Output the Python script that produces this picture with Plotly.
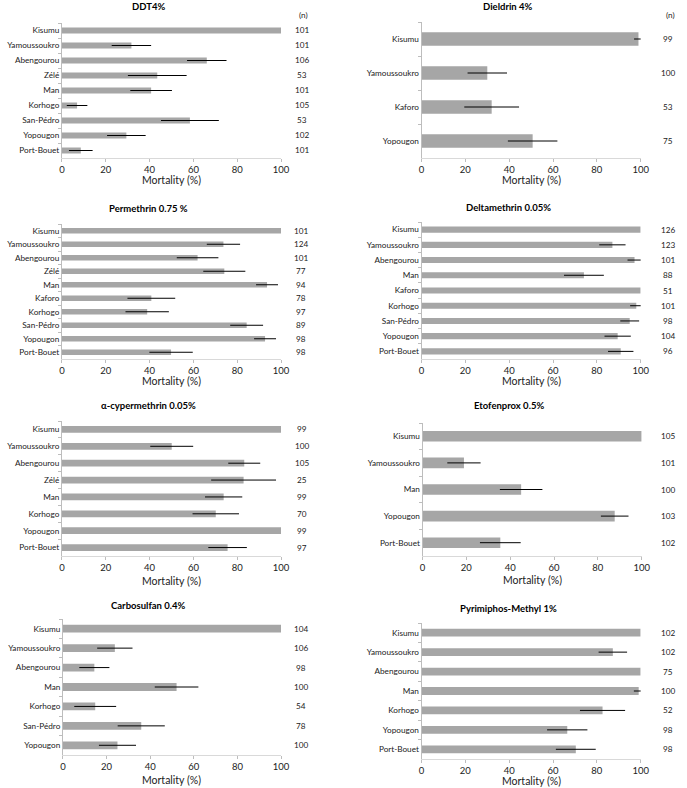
import plotly.graph_objects as go

# ---------------- data ----------------
ddt_sites = ["Kisumu", "Yamoussoukro", "Abengourou", "Zélé", "Man", "Korhogo", "San-Pédro", "Yopougon", "Port-Bouet"]
ddt_mort = [100, 31.7, 66.1, 43.5, 40.7, 6.9, 58.4, 29.4, 8.6]
ddt_err = [0, 9, 9, 13.4, 9.5, 4.7, 13.2, 8.8, 5.4]
ddt_n = [101, 101, 106, 53, 101, 105, 53, 102, 101]

dieldrin_sites = ["Kisumu", "Yamoussoukro", "Kaforo", "Yopougon"]
dieldrin_mort = [99, 30, 32, 50.7]
dieldrin_err = [2, 9, 12.5, 11.3]
dieldrin_n = [99, 100, 53, 75]

perm_sites = ["Kisumu", "Yamoussoukro", "Abengourou", "Zélé", "Man", "Kaforo", "Korhogo", "San-Pédro", "Yopougon", "Port-Bouet"]
perm_mort = [100, 73.7, 61.9, 74.1, 93.6, 40.8, 38.9, 84.3, 92.7, 49.8]
perm_err = [0, 7.6, 9.5, 9.6, 5, 10.9, 9.9, 7.5, 5, 9.9]
perm_n = [101, 124, 101, 77, 94, 78, 97, 89, 98, 98]

delta_sites = ["Kisumu", "Yamoussoukro", "Abengourou", "Man", "Kaforo", "Korhogo", "San-Pédro", "Yopougon", "Port-Bouet"]
delta_mort = [100, 87.1, 97.2, 74.1, 100, 98, 95, 89.5, 90.9]
delta_err = [0, 6, 3.2, 9.1, 0, 2.8, 4.3, 6, 5.8]
delta_n = [126, 123, 101, 88, 51, 101, 98, 104, 96]

alpha_sites = ["Kisumu", "Yamoussoukro", "Abengourou", "Zélé", "Man", "Korhogo", "Yopougon", "Port-Bouet"]
alpha_mort = [100, 50.1, 83.2, 82.9, 73.8, 70.2, 100, 75.6]
alpha_err = [0, 9.8, 7.3, 14.8, 8.5, 10.6, 0, 8.8]
alpha_n = [99, 100, 105, 25, 99, 70, 99, 97]

etof_sites = ["Kisumu", "Yamoussoukro", "Man", "Yopougon", "Port-Bouet"]
etof_mort = [100, 18.9, 45, 87.7, 35.5]
etof_err = [0, 7.6, 9.7, 6.3, 9.3]
etof_n = [105, 101, 100, 103, 102]

carbo_sites = ["Kisumu", "Yamoussoukro", "Abengourou", "Man", "Korhogo", "San-Pédro", "Yopougon"]
carbo_mort = [100, 23.8, 14.4, 52.1, 14.8, 35.9, 25]
carbo_err = [0, 8.1, 6.9, 10, 9.6, 10.8, 8.5]
carbo_n = [104, 106, 98, 100, 54, 78, 100]

pm_sites = ["Kisumu", "Yamoussoukro", "Abengourou", "Man", "Korhogo", "Yopougon", "Port-Bouet"]
pm_mort = [100, 87.3, 100, 99.1, 82.6, 66.5, 70.4]
pm_err = [0, 6.5, 0, 2.2, 10.3, 9.2, 9.1]
pm_n = [102, 102, 75, 100, 52, 98, 98]

titles = ["DDT4%", "Dieldrin 4%", "Permethrin 0.75 %", "Deltamethrin 0.05%",
          "α-cypermethrin 0.05%", "Etofenprox 0.5%", "Carbosulfan 0.4%", "Pyrimiphos-Methyl 1%"]
x_ticks = [0, 20, 40, 60, 80, 100]
x_title = "Mortality (%)"
n_header = "(n)"

# ---------------- layout geometry (pixels) ----------------
W, H = 687, 788
FONT = "Lato"
BAR = "#a6a6a6"
TXT = "#222222"
AXIS = "#bdbdbd"

panels = [
    dict(sites=ddt_sites, mort=ddt_mort, err=ddt_err, n=ddt_n, x0=60, x1=283, top=23, bot=158, tx=148, ty=7, nx=304, hdr=True, aty=180),
    dict(sites=dieldrin_sites, mort=dieldrin_mort, err=dieldrin_err, n=dieldrin_n, x0=426, x1=649, top=22, bot=158, tx=514, ty=7, nx=677, hdr=True, aty=180),
    dict(sites=perm_sites, mort=perm_mort, err=perm_err, n=perm_n, x0=60, x1=283, top=224, bot=359, tx=148, ty=208, nx=303, hdr=False, aty=381),
    dict(sites=delta_sites, mort=delta_mort, err=delta_err, n=delta_n, x0=426, x1=649, top=222, bot=359, tx=514, ty=207, nx=677, hdr=False, aty=381),
    dict(sites=alpha_sites, mort=alpha_mort, err=alpha_err, n=alpha_n, x0=60, x1=283, top=421, bot=556, tx=148, ty=405, nx=304, hdr=False, aty=581),
    dict(sites=etof_sites, mort=etof_mort, err=etof_err, n=etof_n, x0=427, x1=650, top=423, bot=556, tx=515, ty=405, nx=677, hdr=False, aty=580),
    dict(sites=carbo_sites, mort=carbo_mort, err=carbo_err, n=carbo_n, x0=61, x1=283, top=619, bot=755, tx=148, ty=605, nx=303, hdr=False, aty=780),
    dict(sites=pm_sites, mort=pm_mort, err=pm_err, n=pm_n, x0=426, x1=649, top=623, bot=759, tx=514, ty=608, nx=677, hdr=False, aty=781),
]

fig = go.Figure()
annotations = []
layout_axes = {}

for i, p in enumerate(panels):
    k = "" if i == 0 else str(i + 1)
    xa, ya = "x" + k, "y" + k
    fig.add_trace(go.Bar(
        x=p["mort"], y=p["sites"], orientation="h", xaxis=xa, yaxis=ya,
        marker=dict(color=BAR, line=dict(width=0)),
        error_x=dict(type="data", array=p["err"], visible=True, color="#000000", thickness=1, width=0),
        showlegend=False, hoverinfo="x+y",
    ))
    nc = len(p["sites"])
    layout_axes["xaxis" + k] = dict(
        domain=[p["x0"] / W, p["x1"] / W], anchor=ya, range=[0, 100],
        tickvals=x_ticks, showgrid=False, zeroline=False,
        showline=True, linecolor="#d9d9d9", linewidth=1,
        ticks="outside", ticklen=3, tickcolor=AXIS,
        tickfont=dict(family=FONT, size=9.5, color=TXT), fixedrange=True,
    )
    layout_axes["yaxis" + k] = dict(
        domain=[1 - p["bot"] / H, 1 - p["top"] / H], anchor=xa,
        type="category", categoryorder="array", categoryarray=p["sites"],
        range=[nc - 0.5, -0.5], showgrid=False, zeroline=False,
        showline=True, linecolor=AXIS, linewidth=1,
        ticks="outside", tickson="boundaries", ticklen=3, tickcolor=AXIS,
        tickfont=dict(family=FONT, size=8.2, color=TXT), fixedrange=True,
    )
    # panel title
    annotations.append(dict(text="<b>" + titles[i] + "</b>", x=p["tx"] / W, y=1 - p["ty"] / H,
                            xref="paper", yref="paper", showarrow=False, xanchor="center", yanchor="middle",
                            font=dict(family=FONT, size=9.5, color="#000000")))
    # axis title
    annotations.append(dict(text=x_title, x=(p["x0"] + p["x1"]) / 2 / W, y=1 - p["aty"] / H,
                            xref="paper", yref="paper", showarrow=False, xanchor="center", yanchor="middle",
                            font=dict(family=FONT, size=10.5, color=TXT)))
    # n labels
    for s, nv in zip(p["sites"], p["n"]):
        annotations.append(dict(text=str(nv), x=p["nx"] / W, y=s, xref="paper", yref=ya,
                                showarrow=False, xanchor="center", yanchor="middle",
                                font=dict(family=FONT, size=8.2, color=TXT)))
    if p["hdr"]:
        annotations.append(dict(text=n_header, x=(p["nx"] + 2) / W, y=1 - 15 / H, xref="paper", yref="paper",
                                showarrow=False, xanchor="center", yanchor="middle",
                                font=dict(family=FONT, size=8.2, color=TXT)))

fig.update_layout(
    width=W, height=H, margin=dict(l=0, r=0, t=0, b=0),
    paper_bgcolor="white", plot_bgcolor="white",
    bargap=0.6, annotations=annotations,
    font=dict(family=FONT, size=9, color=TXT),
    **layout_axes,
)

fig.write_html("out.html", config={"displayModeBar": False},
               post_script="document.body.style.margin='0';document.body.style.padding='0';document.body.style.overflow='hidden';")
